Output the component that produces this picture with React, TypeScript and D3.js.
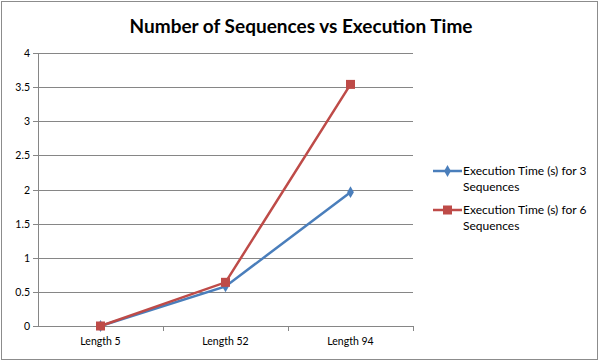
import React from "react";
import * as d3 from "d3";

const categories = ["Length 5", "Length 52", "Length 94"];
const series3 = [0, 0.58, 1.96];
const series6 = [0, 0.64, 3.54];
const seriesNames = ["Execution Time (s) for 3 Sequences", "Execution Time (s) for 6 Sequences"];
const yTicks = [0, 0.5, 1, 1.5, 2, 2.5, 3, 3.5, 4];

const W = 600, H = 361;
const left = 38, right = 413, top = 53, bottom = 326;
const font = "Lato, 'Open Sans', sans-serif";

export default function App() {
  const x = d3.scaleBand<string>().domain(categories).range([left, right]);
  const y = d3.scaleLinear().domain([0, 4]).range([bottom, top]);
  const line = d3.line<number>().x((_, i) => x(categories[i])! + x.bandwidth() / 2).y((d) => y(d));
  const colors = ["#4a7ebb", "#be4b48"];
  const data = [series3, series6];
  const legendY = [171, 210];
  const diamond = d3.symbol().type(d3.symbolDiamond).size(40)()!;
  return (
    <svg width={W} height={H} style={{ position: "absolute", left: 0, top: 0 }} fontFamily={font}>
      <rect x={0} y={0} width={W} height={H} fill="#fff" />
      <rect x={1.5} y={1.5} width={W - 4} height={H - 3} fill="none" stroke="#8c8c8c" />
      <text x={301} y={33} textAnchor="middle" fontSize={19} fontWeight="bold" fill="#000">Number of Sequences vs Execution Time</text>
      {yTicks.map((t) => (
        <g key={t}>
          <line x1={left} x2={right} y1={Math.round(y(t)) + 0.5} y2={Math.round(y(t)) + 0.5} stroke="#868686" />
          <line x1={left - 5} x2={left} y1={Math.round(y(t)) + 0.5} y2={Math.round(y(t)) + 0.5} stroke="#868686" />
          <text x={left - 8} y={y(t) + 4} textAnchor="end" fontSize={10.5} fill="#000">{t}</text>
        </g>
      ))}
      <line x1={left + 0.5} x2={left + 0.5} y1={top} y2={bottom + 1} stroke="#868686" />
      {categories.map((c, i) => (
        <g key={c}>
          <line x1={Math.round(x(c)! + x.bandwidth()) + 0.5} x2={Math.round(x(c)! + x.bandwidth()) + 0.5} y1={bottom} y2={bottom + 5} stroke="#868686" />
          <text x={x(c)! + x.bandwidth() / 2} y={bottom + 19} textAnchor="middle" fontSize={10.5} fill="#000">{c}</text>
        </g>
      ))}
      {data.map((s, si) => (
        <g key={si}>
          <path d={line(s)!} fill="none" stroke={colors[si]} strokeWidth={2.5} />
          {s.map((v, i) => {
            const cx = x(categories[i])! + x.bandwidth() / 2;
            const cy = y(v);
            return si === 0 ? (
              <path key={i} d={diamond} transform={`translate(${cx},${cy})`} fill={colors[0]} />
            ) : (
              <rect key={i} x={cx - 4.5} y={cy - 4.5} width={9} height={9} fill={colors[1]} />
            );
          })}
        </g>
      ))}
      {seriesNames.map((n, i) => {
        const ly = legendY[i];
        const parts = n.split(" Sequences");
        return (
          <g key={n}>
            <line x1={433} x2={462} y1={ly} y2={ly} stroke={colors[i]} strokeWidth={2.5} />
            {i === 0 ? (
              <path d={diamond} transform={`translate(447.5,${ly})`} fill={colors[0]} />
            ) : (
              <rect x={443} y={ly - 4.5} width={9} height={9} fill={colors[1]} />
            )}
            <text x={463} y={ly + 4} fontSize={12} fill="#000">{parts[0]}</text>
            <text x={463} y={ly + 20} fontSize={12} fill="#000">Sequences</text>
          </g>
        );
      })}
    </svg>
  );
}
